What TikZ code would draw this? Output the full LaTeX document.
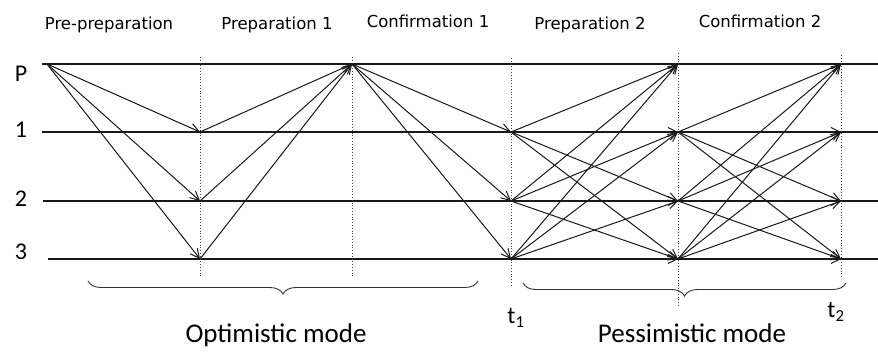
\documentclass[tikz,border=0pt]{standalone}
\usepackage{fontspec}
\setmainfont{Carlito}
\newfontfamily\stagefont{DejaVu Sans}
\usetikzlibrary{arrows.meta,decorations.pathreplacing}

\tikzset{
	stage/.style={anchor=base, font=\stagefont\fontsize{16.5}{19}\selectfont},
	level/.style={line width=1.3pt, black!90},
	levelname/.style={anchor=base, font=\fontsize{24}{28}\selectfont},
	move/.style={-{Straight Barb[length=9pt,width=9pt]}, line width=1pt, black!90},
	guide/.style={dotted, line width=0.8pt, black!75},
	modebrace/.style={decorate, decoration={brace, amplitude=13pt, mirror}, line width=0.9pt, black!80},
	modename/.style={anchor=base, font=\fontsize{27}{32}\selectfont},
}

\begin{document}
\begin{tikzpicture}[x=1pt, y=-1pt]
\useasboundingbox (0,0) rectangle (878,352);

% stage names on top
\path (109,30) node[stage] (pre) {Pre-preparation};
\path (277,30) node[stage] (prep1) {Preparation 1};
\path (428,28) node[stage] (conf1) {Confirmation 1};
\path (590,30) node[stage] (prep2) {Preparation 2};
\path (760,28) node[stage] (conf2) {Confirmation 2};

% state levels
\foreach \s/\y/\xs/\ly in {P/64/42/82, 1/132/42/138, 2/201/43/207, 3/259/48/260}
{
	\coordinate (L\s) at (\xs,\y);
	\coordinate (R\s) at (878,\y);
	\draw[level] (L\s) -- (R\s);
	\path (21,\ly) node[levelname] (n\s) {\s};
}

% time guides
\foreach \c/\x/\top/\bot in {A/200/57/277, B/352/57/277, C/511/58/287, D/678/53/307, E/841/55/279}
{
	\coordinate (\c top) at (\x,\top);
	\coordinate (\c bot) at (\x,\bot);
	\draw[guide] (\c top) -- (\c bot);
	\foreach \s/\y in {P/64, 1/132, 2/201, 3/259}
		\coordinate (\c\s) at (\x,\y);
}
\coordinate (start) at (47,64);

% optimistic mode
\foreach \s in {1,2,3}
{
	\draw[move] (start) -- (A\s);
	\draw[move] (A\s) -- (BP);
	\draw[move] (BP) -- (C\s);
}

% pessimistic mode
\foreach \s in {1,2,3}
	\foreach \t in {P,1,2,3}
	{
		\draw[move] (C\s) -- (D\t);
		\draw[move] (D\s) -- (E\t);
	}

% braces
\coordinate (ob1) at (88,281);
\coordinate (ob2) at (478,281);
\coordinate (pb1) at (523,283);
\coordinate (pb2) at (846,283);
\draw[modebrace] (ob1) -- (ob2);
\draw[modebrace] (pb1) -- (pb2);

\path (276,343) node[modename] (opt) {Optimistic mode};
\path (692,343) node[modename] (pes) {Pessimistic mode};
\path (516,324) node[levelname] (t1) {t\textsubscript{1}};
\path (836,318) node[levelname] (t2) {t\textsubscript{2}};

\end{tikzpicture}
\end{document}
